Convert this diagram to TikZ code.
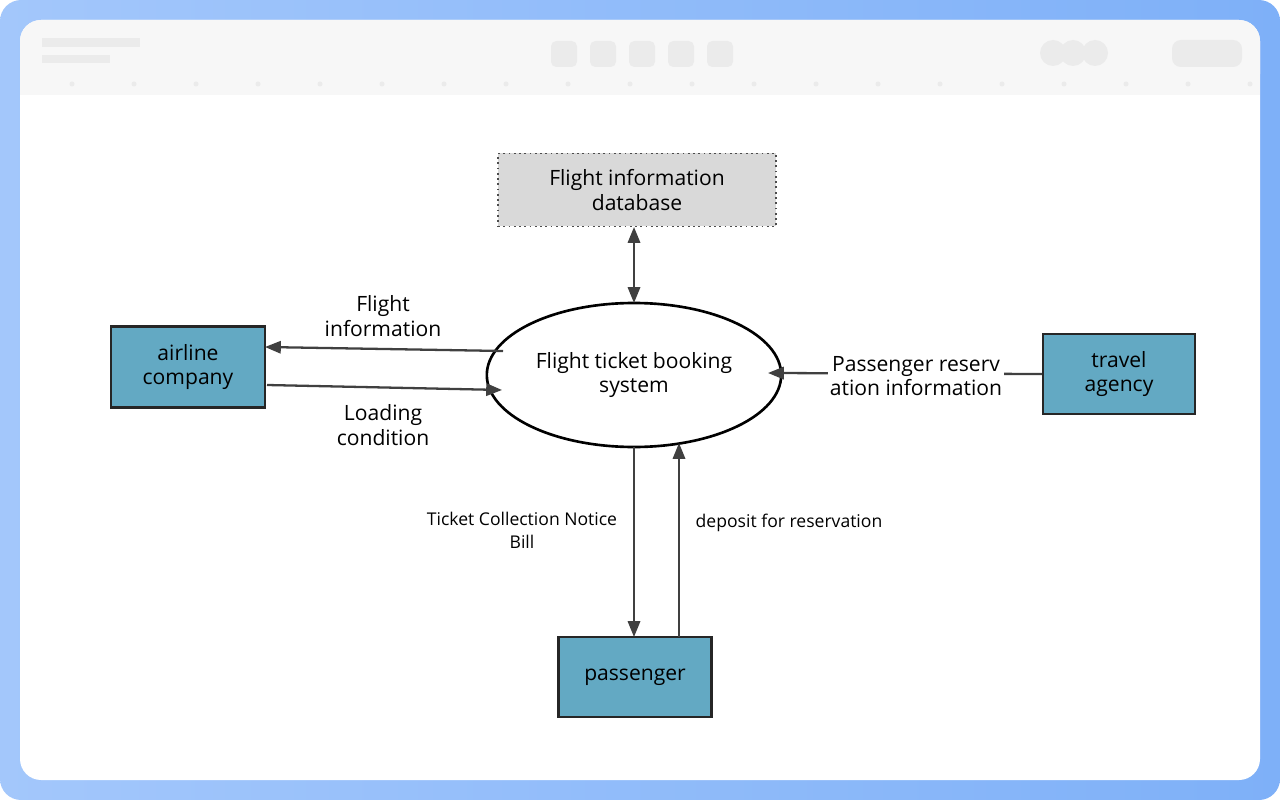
\documentclass[tikz,border=0pt]{standalone}
\usepackage{fontspec}
\setmainfont{Open Sans}
\usetikzlibrary{shapes.geometric,arrows.meta}
\begin{document}
\begin{tikzpicture}[x=0.02cm,y=-0.02cm,
 box/.style={draw=black!85,line width=1.4pt,fill=teal0,minimum width=152\pgflinewidth,inner sep=0},
 lab/.style={font=\fontsize{12}{14}\selectfont,align=center},
 arr/.style={draw=black!75,line width=1.3pt,-{Triangle[length=9pt,width=7pt]}}]
\definecolor{teal0}{HTML}{63A9C3}
\definecolor{bgA}{HTML}{A3C7FB}
\definecolor{bgB}{HTML}{7EB0F8}
\useasboundingbox (0,0) rectangle (1280,800);
\shade[left color=bgA,right color=bgB,rounded corners=12] (0,0) rectangle (1280,800);
\fill[white,rounded corners=12] (20,20) rectangle (1260,780);
\fill[black!3,rounded corners=12] (20,20) rectangle (1260,95);
\fill[black!3] (20,60) rectangle (1260,95);
\fill[black!8] (42,38) rectangle (140,47);
\fill[black!8] (42,55) rectangle (110,63);
\foreach \x in {551,590,629,668,707}\fill[black!8,rounded corners=3] (\x,41) rectangle ++(26,26);
\foreach \x in {1053,1073,1095}\fill[black!8] (\x,53) circle (13);
\fill[black!8,rounded corners=5] (1172,40) rectangle (1242,67);
\foreach \x in {72,134,196,258,320,382,444,506,568,630,692,754,816,878,940,1002,1064,1126,1188,1250}\fill[black!8] (\x,84) circle (2.5);
\node[draw=black!70,dotted,line width=1pt,fill=black!15,minimum width=278*0.02cm,minimum height=73*0.02cm,lab] (db) at (637,190) {Flight information\\database};
\node[ellipse,draw=black,line width=1.5pt,fill=white,minimum width=268*0.02cm,minimum height=144*0.02cm,lab] (sys) at (634,375) {Flight ticket booking\\system};
\node[box,minimum width=154*0.02cm,minimum height=81*0.02cm,lab] (air) at (188,367) {airline\\company};
\node[box,minimum width=152*0.02cm,minimum height=80*0.02cm,lab] (trav) at (1119,374) {travel\\agency};
\node[box,minimum width=153*0.02cm,minimum height=80*0.02cm,lab] (pas) at (635,677) {passenger};
\coordinate (dbb) at (634,227);
\coordinate (syt) at (634,303);
\draw[arr,{Triangle[length=9pt,width=7pt]}-{Triangle[length=9pt,width=7pt]}] (dbb) -- (syt);
\coordinate (s1) at (503,351); \coordinate (a1) at (265,347);
\draw[arr] (s1) -- (a1);
\coordinate (a2) at (267,385); \coordinate (s2) at (502,390);
\draw[arr] (a2) -- (s2);
\coordinate (s3) at (768,373);
\draw[arr] (trav.west) -- (s3);
\node[lab,fill=white,inner sep=1pt] at (916,376) {Passenger reserv\\ation information};
\coordinate (s4) at (634,447); \coordinate (p4) at (634,637);
\draw[arr] (s4) -- (p4);
\coordinate (p5) at (679,637); \coordinate (s5) at (679,443);
\draw[arr] (p5) -- (s5);
\node[lab] at (383,316) {Flight\\information};
\node[lab] at (383,425) {Loading\\condition};
\node[font=\fontsize{10}{13}\selectfont,align=center] at (522,530) {Ticket Collection Notice\\Bill};
\node[font=\fontsize{10}{13}\selectfont] at (789,523) {deposit for reservation};
\end{tikzpicture}
\end{document}
